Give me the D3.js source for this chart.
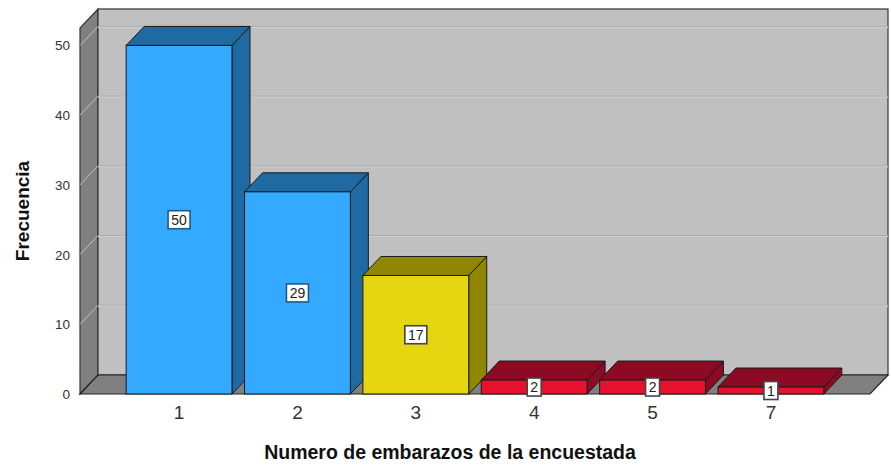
<!DOCTYPE html>
<html>
<head>
<meta charset="utf-8">
<script src="https://cdn.jsdelivr.net/npm/d3@7"></script>
<style>
  body { margin: 0; background: #fff; }
  svg { display: block; font-family: 'Liberation Sans', Arial, sans-serif; }
</style>
</head>
<body>
<svg id="chart" width="891" height="467"></svg>
<script>
// data
var categories = ['1', '2', '3', '4', '5', '7'];
var counts = [50, 29, 17, 2, 2, 1];
var yTicks = [0, 10, 20, 30, 40, 50];

// colour per bar: front / side+top
var frontColors = ['#33aaff', '#33aaff', '#e6d612', '#e8112d', '#e8112d', '#e8112d'];
var darkColors = ['#1f6aa3', '#1f6aa3', '#8f8700', '#8c0a24', '#8c0a24', '#8c0a24'];

var dx = 18, dy = -19;   // depth offset of the 3d box
var plotLeft = 80, plotRight = 870, base = 394, plotTop = 28;

var svg = d3.select('#chart');

var yScale = d3.scaleLinear()
  .domain([0, 52.5])
  .range([base, plotTop]);

var xScale = d3.scaleBand()
  .domain(categories)
  .range([plotLeft, plotRight])
  .paddingInner(0.106)
  .paddingOuter(0.39);

var pts = function(a) { return a.map(function(p) { return p.join(','); }).join(' '); };

// left wall
svg.append('polygon')
  .attr('points', pts([[plotLeft, base], [plotLeft, plotTop], [plotLeft + dx, plotTop + dy], [plotLeft + dx, base + dy]]))
  .style('fill', '#808080')
  .style('stroke', '#333')
  .style('stroke-width', 1.2);

// back wall
svg.append('rect')
  .attr('x', plotLeft + dx)
  .attr('y', plotTop + dy)
  .attr('width', plotRight - plotLeft)
  .attr('height', base - plotTop)
  .style('fill', '#c0c0c0')
  .style('stroke', '#333')
  .style('stroke-width', 1.2);

// grid lines on back wall and left wall
yTicks.filter(function(t) { return t > 0; }).forEach(function(t) {
  svg.append('line')
    .attr('x1', plotLeft + dx).attr('x2', plotRight + dx)
    .attr('y1', yScale(t) + dy).attr('y2', yScale(t) + dy)
    .style('stroke', '#a9a9a9');
  svg.append('line')
    .attr('x1', plotLeft + dx).attr('x2', plotRight + dx)
    .attr('y1', yScale(t) + dy + 1).attr('y2', yScale(t) + dy + 1)
    .style('stroke', '#cfcfcf');
  svg.append('line')
    .attr('x1', plotLeft).attr('x2', plotLeft + dx)
    .attr('y1', yScale(t)).attr('y2', yScale(t) + dy)
    .style('stroke', '#c4c4c4');
});

// floor
svg.append('polygon')
  .attr('points', pts([[plotLeft, base], [plotRight, base], [plotRight + dx, base + dy], [plotLeft + dx, base + dy]]))
  .style('fill', '#808080')
  .style('stroke', '#222')
  .style('stroke-width', 1.2);

// y tick labels
svg.selectAll('.ytick')
  .data(yTicks)
  .enter()
  .append('text')
  .attr('class', 'ytick')
  .attr('x', 70)
  .attr('y', function(d) { return yScale(d) + 5; })
  .attr('text-anchor', 'end')
  .attr('font-size', 13.5)
  .style('fill', '#333')
  .text(function(d) { return d; });

// bars
var bars = categories.map(function(c, i) { return { cat: c, value: counts[i], i: i }; });

bars.forEach(function(d) {
  var x = xScale(d.cat);
  var w = xScale.bandwidth();
  var yv = yScale(d.value);
  var g = svg.append('g');

  g.append('polygon')
    .attr('points', pts([[x + w, base], [x + w, yv], [x + w + dx, yv + dy], [x + w + dx, base + dy]]))
    .style('fill', darkColors[d.i])
    .style('stroke', '#1a1a1a')
    .style('stroke-width', 1);

  g.append('polygon')
    .attr('points', pts([[x, yv], [x + dx, yv + dy], [x + w + dx, yv + dy], [x + w, yv]]))
    .style('fill', darkColors[d.i])
    .style('stroke', '#1a1a1a')
    .style('stroke-width', 1);

  g.append('rect')
    .attr('x', x)
    .attr('y', yv)
    .attr('width', w)
    .attr('height', base - yv)
    .style('fill', frontColors[d.i])
    .style('stroke', '#1a1a1a')
    .style('stroke-width', 1);
});

// value labels
bars.forEach(function(d) {
  var cx = xScale(d.cat) + xScale.bandwidth() / 2;
  var cy = (base + yScale(d.value)) / 2;
  var txt = String(d.value);
  var bw = txt.length * 8 + 6;
  svg.append('rect')
    .attr('x', cx - bw / 2)
    .attr('y', cy - 9)
    .attr('width', bw)
    .attr('height', 18)
    .style('fill', '#fff')
    .style('stroke', d.i < 2 ? '#1f5a8a' : '#444')
    .style('stroke-width', 1.6);
  svg.append('text')
    .attr('x', cx)
    .attr('y', cy + 5)
    .attr('text-anchor', 'middle')
    .attr('font-size', 14)
    .style('fill', '#222')
    .text(txt);
});

// x tick labels
svg.selectAll('.xtick')
  .data(categories)
  .enter()
  .append('text')
  .attr('class', 'xtick')
  .attr('x', function(d) { return xScale(d) + xScale.bandwidth() / 2; })
  .attr('y', 419)
  .attr('text-anchor', 'middle')
  .attr('font-size', 19)
  .style('fill', '#333')
  .text(function(d) { return d; });

// axis titles
svg.append('text')
  .attr('transform', 'translate(29,211) rotate(-90)')
  .attr('text-anchor', 'middle')
  .attr('font-size', 19)
  .style('font-weight', 'bold')
  .style('fill', '#111')
  .text('Frecuencia');

svg.append('text')
  .attr('x', 450)
  .attr('y', 459)
  .attr('text-anchor', 'middle')
  .attr('font-size', 19.5)
  .style('font-weight', 'bold')
  .style('fill', '#111')
  .text('Numero de embarazos de la encuestada');
</script>
</body>
</html>
